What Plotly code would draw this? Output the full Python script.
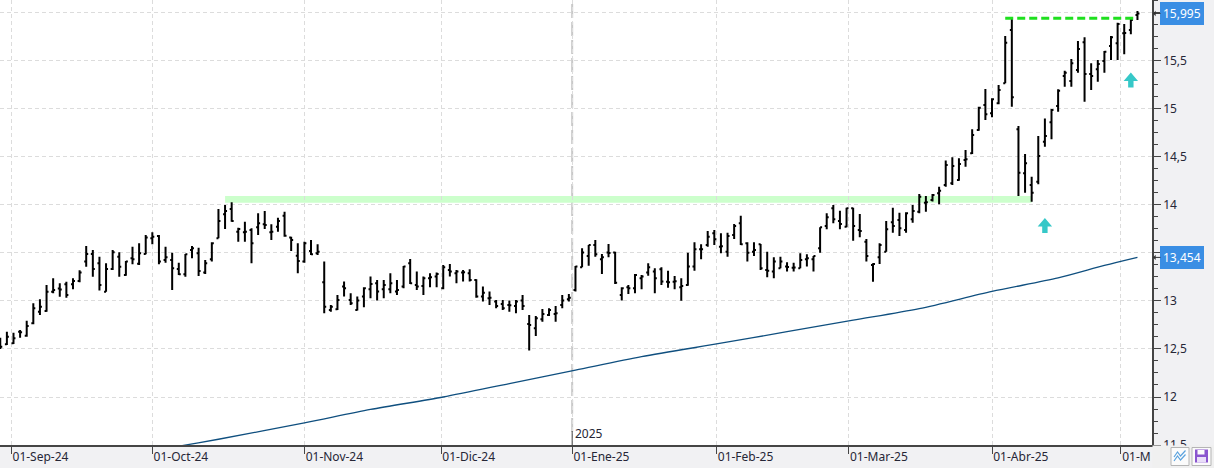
import pandas as pd
import plotly.graph_objects as go

# ---------------- data ----------------
HOLIDAYS = ["2024-12-25", "2024-12-26", "2025-01-01", "2025-04-18", "2025-04-21", "2025-05-01"]
DATES = [d for d in pd.bdate_range("2024-08-29", "2025-05-06") if d.strftime("%Y-%m-%d") not in HOLIDAYS]

OPEN = [
    12.559, 12.549, 12.559, 12.680, 12.639, 12.767, 12.889, 12.896, 13.097, 13.130, 13.174, 13.174,
    13.208, 13.410, 13.489, 13.392, 13.097, 13.333, 13.462, 13.271, 13.444, 13.389, 13.489, 13.653,
    13.677, 13.427, 13.427, 13.333, 13.278, 13.531, 13.496, 13.298, 13.434, 13.653, 13.903, 13.958,
    13.722, 13.715, 13.739, 13.767, 13.798, 13.715, 13.774, 13.889, 13.660, 13.472, 13.410, 13.521,
    13.496, 13.194,
    12.907, 12.914, 13.150, 13.011, 12.907, 13.046, 13.122, 13.184, 13.122, 13.122, 13.098, 13.150,
    13.393, 13.167, 13.157, 13.237, 13.254, 13.132, 13.323, 13.289, 13.296, 13.289, 13.219, 13.046,
    13.028, 12.994,
    12.969, 12.959, 12.948, 13.004, 12.761, 12.716, 12.809, 12.855, 12.865, 12.959, 13.018, 13.115,
    13.351, 13.469, 13.584, 13.434, 13.504, 13.504, 13.063, 13.143, 13.132, 13.237, 13.296, 13.306,
    13.330,
    13.201, 13.201, 13.142, 13.167, 13.358, 13.538, 13.583, 13.705, 13.566, 13.514, 13.687, 13.809,
    13.601, 13.514, 13.590, 13.323, 13.306, 13.340, 13.358, 13.347, 13.340, 13.434, 13.434, 13.549,
    13.781, 13.965,
    13.833, 13.774, 13.965, 13.739, 13.618, 13.375, 13.455, 13.514, 13.819, 13.844, 13.739, 13.851,
    13.930, 14.024, 14.052, 14.121, 14.208, 14.226, 14.260, 14.469, 14.538, 14.781, 15.041,
    14.955, 15.059, 15.267, 15.823, 14.788, 14.330, 14.208, 14.243, 14.659, 14.861, 15.031, 15.343,
    15.291, 15.406, 15.694, 15.364, 15.413, 15.500, 15.656, 15.684, 15.788, 15.823, 15.979,
]
HIGH = [
    12.618, 12.680, 12.670, 12.698, 12.795, 12.976, 13.017, 13.167, 13.236, 13.184, 13.201, 13.236,
    13.319, 13.573, 13.531, 13.462, 13.392, 13.531, 13.507, 13.417, 13.566, 13.601, 13.687, 13.715,
    13.687, 13.566, 13.503, 13.399, 13.489, 13.573, 13.555, 13.427, 13.611, 13.958, 14.000, 14.028,
    13.764, 13.826, 13.757, 13.913, 13.937, 13.798, 13.868, 13.930, 13.670, 13.601, 13.618, 13.635,
    13.590, 13.410,
    12.959, 13.063, 13.202, 13.080, 13.046, 13.143, 13.254, 13.219, 13.219, 13.289, 13.219, 13.365,
    13.438, 13.306, 13.254, 13.289, 13.296, 13.375, 13.386, 13.323, 13.323, 13.330, 13.226, 13.150,
    13.098, 13.011,
    13.011, 13.004, 13.011, 13.063, 12.855, 12.844, 12.917, 12.924, 12.948, 13.063, 13.073, 13.365,
    13.549, 13.584, 13.636, 13.490, 13.594, 13.514, 13.143, 13.167, 13.282, 13.271, 13.393, 13.341,
    13.351,
    13.316, 13.260, 13.236, 13.503, 13.611, 13.590, 13.729, 13.740, 13.705, 13.712, 13.802, 13.889,
    13.611, 13.611, 13.594, 13.514, 13.455, 13.462, 13.403, 13.399, 13.496, 13.486, 13.469, 13.767,
    13.913, 14.000,
    13.941, 13.972, 13.972, 13.906, 13.646, 13.392, 13.601, 13.833, 13.972, 13.920, 13.923, 14.000,
    14.114, 14.094, 14.114, 14.191, 14.462, 14.496, 14.486, 14.573, 14.788, 15.024, 15.208,
    15.111, 15.250, 15.760, 15.944, 14.823, 14.531, 14.295, 14.718, 14.902, 14.999, 15.205, 15.399,
    15.520, 15.708, 15.746, 15.475, 15.510, 15.604, 15.760, 15.899, 15.885, 15.944, 16.020,
]
LOW = [
    12.500, 12.542, 12.552, 12.618, 12.628, 12.757, 12.854, 12.889, 13.080, 13.045, 13.035, 13.121,
    13.194, 13.357, 13.253, 13.108, 13.097, 13.323, 13.253, 13.264, 13.382, 13.375, 13.486, 13.590,
    13.382, 13.399, 13.114, 13.271, 13.253, 13.444, 13.260, 13.281, 13.410, 13.653, 13.750, 13.826,
    13.618, 13.618, 13.392, 13.687, 13.750, 13.635, 13.722, 13.670, 13.521, 13.288, 13.399, 13.479,
    13.479, 12.871,
    12.889, 12.907, 13.046, 12.959, 12.900, 12.934, 13.028, 13.004, 13.028, 13.080, 13.063, 13.132,
    13.178, 13.115, 13.063, 13.143, 13.143, 13.122, 13.254, 13.184, 13.202, 13.202, 13.035, 12.994,
    12.959, 12.924,
    12.907, 12.889, 12.872, 12.907, 12.483, 12.636, 12.785, 12.844, 12.785, 12.924, 12.994, 13.098,
    13.351, 13.368, 13.462, 13.282, 13.455, 13.178, 13.004, 13.073, 13.080, 13.122, 13.264, 13.080,
    13.167,
    13.139, 13.121, 13.003, 13.160, 13.316, 13.434, 13.566, 13.583, 13.496, 13.462, 13.646, 13.583,
    13.410, 13.469, 13.323, 13.247, 13.236, 13.340, 13.306, 13.306, 13.340, 13.358, 13.306, 13.503,
    13.746, 13.809,
    13.746, 13.767, 13.628, 13.663, 13.410, 13.201, 13.385, 13.514, 13.712, 13.677, 13.712, 13.816,
    13.913, 13.930, 14.035, 14.007, 14.191, 14.208, 14.253, 14.399, 14.531, 14.774, 14.885,
    14.913, 15.048, 15.267, 15.024, 14.093, 14.128, 14.034, 14.215, 14.607, 14.684, 14.972, 15.232,
    15.232, 15.378, 15.076, 15.198, 15.284, 15.378, 15.510, 15.510, 15.569, 15.777, 15.927,
]
CLOSE = [
    12.524, 12.628, 12.611, 12.674, 12.739, 12.924, 12.941, 13.097, 13.114, 13.120, 13.062, 13.208,
    13.298, 13.489, 13.333, 13.167, 13.333, 13.507, 13.357, 13.410, 13.434, 13.496, 13.660, 13.670,
    13.410, 13.455, 13.340, 13.278, 13.486, 13.548, 13.312, 13.392, 13.601, 13.833, 13.937, 13.833,
    13.750, 13.722, 13.601, 13.809, 13.791, 13.722, 13.833, 13.680, 13.635, 13.417, 13.601, 13.486,
    13.514, 12.941,
    12.941, 13.011, 13.132, 12.976, 13.004, 13.132, 13.178, 13.098, 13.167, 13.184, 13.115, 13.358,
    13.184, 13.150, 13.237, 13.247, 13.282, 13.351, 13.306, 13.306, 13.299, 13.219, 13.046, 13.087,
    13.035, 12.948,
    12.924, 12.955, 12.994, 12.948, 12.750, 12.820, 12.865, 12.907, 12.872, 13.004, 13.035, 13.358,
    13.504, 13.584, 13.487, 13.455, 13.500, 13.191, 13.132, 13.132, 13.271, 13.254, 13.351, 13.237,
    13.202,
    13.194, 13.205, 13.156, 13.358, 13.538, 13.540, 13.670, 13.642, 13.570, 13.677, 13.781, 13.590,
    13.503, 13.531, 13.340, 13.316, 13.410, 13.410, 13.355, 13.350, 13.427, 13.444, 13.469, 13.767,
    13.871, 13.851,
    13.802, 13.965, 13.781, 13.729, 13.469, 13.385, 13.583, 13.746, 13.781, 13.757, 13.913, 13.937,
    14.087, 14.028, 14.104, 14.149, 14.417, 14.406, 14.427, 14.476, 14.729, 15.014, 14.944,
    15.100, 15.198, 15.691, 15.121, 14.336, 14.434, 14.128, 14.510, 14.718, 14.990, 15.191, 15.378,
    15.475, 15.625, 15.364, 15.343, 15.468, 15.597, 15.746, 15.885, 15.790, 15.927, 15.995,
]

# 200-session moving average (read at selected sessions)
MA_DATES = ["2024-09-25", "2024-10-04", "2024-10-15", "2024-11-01", "2024-11-15", "2024-12-02",
            "2024-12-16", "2025-01-02", "2025-01-16", "2025-02-03", "2025-02-17", "2025-03-03",
            "2025-03-17", "2025-04-01", "2025-04-15", "2025-04-28", "2025-05-06"]
MA_VALUES = [11.38, 11.475, 11.56, 11.73, 11.87, 12.00, 12.14, 12.28, 12.42, 12.56, 12.68, 12.80,
             12.92, 13.10, 13.24, 13.37, 13.454]

MONTH_STARTS = ["2024-09-01", "2024-10-01", "2024-11-01", "2024-12-01", "2025-01-01",
                "2025-02-01", "2025-03-01", "2025-04-01", "2025-05-01"]
MONTH_LABELS = ["01-Sep-24", "01-Oct-24", "01-Nov-24", "01-Dic-24", "01-Ene-25",
                "01-Feb-25", "01-Mar-25", "01-Abr-25", "01-M"]

Y_TICKS = [11.5, 12, 12.5, 13, 13.5, 14, 14.5, 15, 15.5, 16]
Y_TICK_TEXT = ["11,5", "12", "12,5", "13", "", "14", "14,5", "15", "15,5", ""]

# analyst annotations
ZONE = dict(start="2024-10-16", end="2025-04-09", low=14.024, high=14.094)
TOP_LINE = dict(start="2025-04-03", end="2025-05-05", level=15.945)
ARROWS = [("2025-04-11", 13.786), ("2025-05-05", 15.302)]
TAGS = [(15.995, "15,995"), (13.454, "13,454")]

# ---------------- helpers ----------------
IDX = list(range(len(DATES)))
DATE_STR = [d.strftime("%d-%m-%Y") for d in DATES]


def date_pos(s):
    d = pd.Timestamp(s)
    for i, t in enumerate(DATES):
        if t == d:
            return float(i)
        if t > d:
            p = DATES[i - 1]
            return (i - 1) + (d - p).days / (t - p).days
    return float(len(DATES) - 1)


W, H = 1214, 468
ML, MR, MT, MB = 0, 62, 0, 23
PW, PH = W - ML - MR, H - MT - MB


def pxx(px):
    return (px - ML) / PW


def pxy(py):
    return (MT + PH - py) / PH


FONT = "Noto Sans"
TXT = "#262636"
AXC = "#454545"
GRID = "#dcdcdc"

fig = go.Figure()

fig.add_trace(go.Scatter(
    x=[date_pos(d) for d in MA_DATES], y=MA_VALUES, mode="lines",
    line=dict(color="#0f4f7f", width=1.3, shape="spline", smoothing=0.8),
    hoverinfo="skip", showlegend=False))

fig.add_trace(go.Ohlc(
    x=IDX, open=OPEN, high=HIGH, low=LOW, close=CLOSE, text=DATE_STR,
    increasing=dict(line=dict(color="#000000", width=2)),
    decreasing=dict(line=dict(color="#000000", width=2)),
    tickwidth=0.3, showlegend=False))

tick_pos = [date_pos(m) for m in MONTH_STARTS]
jan_pos = date_pos("2025-01-01")

shapes = []
# resistance zone
shapes.append(dict(type="rect", xref="x", yref="y", layer="below",
                   x0=date_pos(ZONE["start"]), x1=date_pos(ZONE["end"]),
                   y0=ZONE["low"], y1=ZONE["high"], fillcolor="#ccffcc", line=dict(width=0)))
# year separator
shapes.append(dict(type="line", xref="x", yref="paper", x0=jan_pos, x1=jan_pos, y0=pxy(432), y1=1,
                   line=dict(color="#c8c8c8", width=2, dash="14px,4px"), layer="below"))
shapes.append(dict(type="line", xref="x", yref="paper", x0=jan_pos, x1=jan_pos, y0=0, y1=pxy(431),
                   line=dict(color=AXC, width=1)))
# top dashed line
shapes.append(dict(type="line", xref="x", yref="y",
                   x0=date_pos(TOP_LINE["start"]), x1=date_pos(TOP_LINE["end"]) + 0.4,
                   y0=TOP_LINE["level"], y1=TOP_LINE["level"],
                   line=dict(color="#1fe01f", width=3, dash="8px,4px")))
# up arrows
for d, v in ARROWS:
    shapes.append(dict(type="path", xref="x", yref="y", xsizemode="pixel", ysizemode="pixel",
                       xanchor=date_pos(d), yanchor=v,
                       path="M -7.2,-0.9 L 0,7.5 L 7.2,-0.9 L 2.7,-0.9 L 2.7,-7.5 L -2.7,-7.5 L -2.7,-0.9 Z",
                       fillcolor="#36c8c8", line=dict(width=0)))
# bottom-right panel and buttons
shapes.append(dict(type="rect", xref="paper", yref="paper", layer="above",
                   x0=pxx(1152.5), x1=pxx(1214), y0=pxy(468), y1=pxy(445.5),
                   fillcolor="#f0f0f0", line=dict(width=0)))
for bx0, bx1 in [(1171, 1189), (1192, 1211)]:
    shapes.append(dict(type="rect", xref="paper", yref="paper", layer="above",
                       x0=pxx(bx0), x1=pxx(bx1), y0=pxy(465.5), y1=pxy(447.5),
                       fillcolor="#fbfbfb", line=dict(color="#b5b5b5", width=1)))


def ppath(points):
    return " ".join(("M" if i == 0 else "L") + f" {pxx(x):.5f},{pxy(y):.5f}" for i, (x, y) in enumerate(points))


shapes.append(dict(type="path", xref="paper", yref="paper", layer="above",
                   path=ppath([(1174, 457), (1177.5, 452), (1180.5, 456), (1185.5, 450.5)]) + " " +
                        ppath([(1174, 461), (1177.5, 456), (1180.5, 460), (1185.5, 454.5)]),
                   line=dict(color="#5aa2de", width=1.2)))
shapes.append(dict(type="rect", xref="paper", yref="paper", layer="above",
                   x0=pxx(1195), x1=pxx(1208), y0=pxy(462.5), y1=pxy(449.5),
                   fillcolor="#8a55cf", line=dict(width=0)))
shapes.append(dict(type="rect", xref="paper", yref="paper", layer="above",
                   x0=pxx(1197.5), x1=pxx(1204.5), y0=pxy(454.5), y1=pxy(450),
                   fillcolor="#fbfbfb", line=dict(width=0)))
shapes.append(dict(type="rect", xref="paper", yref="paper", layer="above",
                   x0=pxx(1197), x1=pxx(1206), y0=pxy(462.5), y1=pxy(457),
                   fillcolor="#e9def8", line=dict(width=0)))

annotations = [dict(text="2025", x=jan_pos, xref="x", y=0, yref="paper", xanchor="left",
                    yanchor="bottom", xshift=1, yshift=1, showarrow=False,
                    font=dict(family=FONT, size=12, color=TXT))]
for v, t in TAGS:
    annotations.append(dict(text=t, x=1, xref="paper", y=v, yref="y", showarrow=True,
                            ax=30, ay=0, axref="pixel", arrowhead=1, arrowsize=0.9,
                            arrowwidth=1, arrowcolor="#333333", standoff=1,
                            bgcolor="#3a8ee4", bordercolor="#3a8ee4", borderpad=2,
                            font=dict(family=FONT, size=12, color="#ffffff")))

fig.update_layout(
    width=W, height=H, autosize=False,
    margin=dict(l=ML, r=MR, t=MT, b=MB, pad=0),
    paper_bgcolor="#f1f1f3", plot_bgcolor="#ffffff",
    separators=",.", showlegend=False, hovermode="closest",
    font=dict(family=FONT, size=12, color=TXT),
    shapes=shapes, annotations=annotations,
    xaxis=dict(range=[-0.04, 174.2], tickmode="array", tickvals=tick_pos, ticktext=MONTH_LABELS,
               ticks="outside", ticklen=7, tickcolor=AXC, tickwidth=1,
               ticklabelposition="outside right",
               showgrid=True, gridcolor=GRID, griddash="4px,3px", gridwidth=1,
               showline=True, linecolor=AXC, linewidth=1.5, zeroline=False,
               rangeslider=dict(visible=False), fixedrange=True,
               tickfont=dict(family=FONT, size=12, color=TXT)),
    yaxis=dict(side="right", range=[11.5, 16.135], tickmode="array", tickvals=Y_TICKS,
               ticktext=Y_TICK_TEXT, ticks="outside", ticklen=7, tickcolor=AXC, tickwidth=1,
               minor=dict(dtick=0.125, tick0=11.5, ticks="outside", ticklen=4,
                          tickcolor=AXC, showgrid=False),
               showgrid=True, gridcolor=GRID, griddash="4px,3px", gridwidth=1,
               showline=True, linecolor=AXC, linewidth=1.5, zeroline=False, fixedrange=True,
               tickfont=dict(family=FONT, size=12, color=TXT)),
)

fig.write_html("out.html")
